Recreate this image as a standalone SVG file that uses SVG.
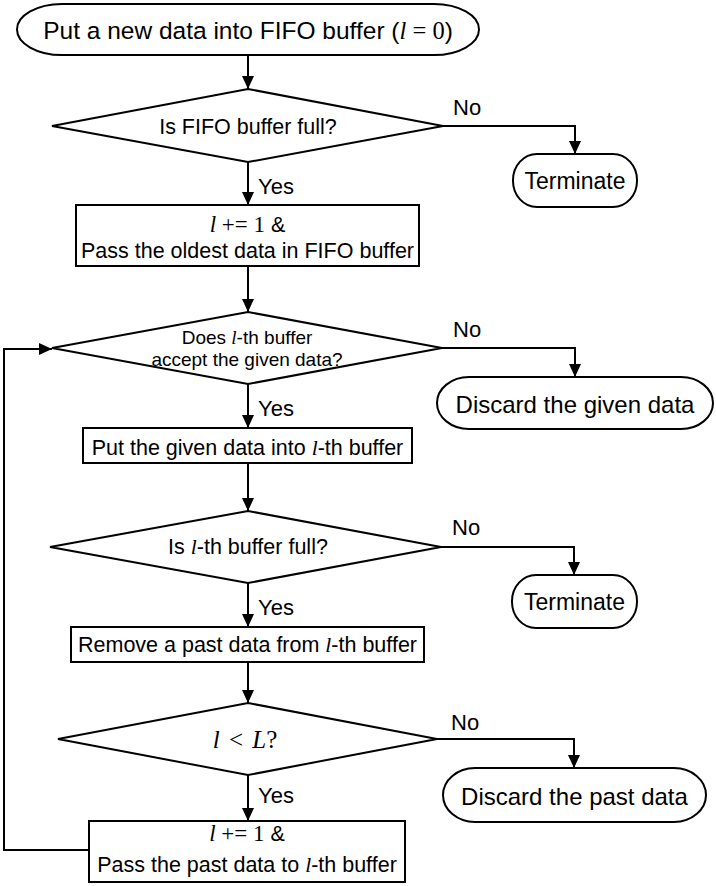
<svg xmlns="http://www.w3.org/2000/svg" width="716" height="886" viewBox="0 0 716 886">
  <defs>
    <marker id="arrow" markerUnits="userSpaceOnUse" markerWidth="14" markerHeight="12" refX="13" refY="6" orient="auto">
      <path d="M0,0 L13,6 L0,12 z" fill="#000"/>
    </marker>
    <style>
      .shape { fill: #fff; stroke: #000; stroke-width: 2; }
      .conn { fill: none; stroke: #000; stroke-width: 2; }
      .arr { marker-end: url(#arrow); }
      text { font-family: "Liberation Sans", Arial, sans-serif; fill: #000; }
      .t { font-size: 21.5px; text-anchor: middle; }
      .big { font-size: 24px; text-anchor: middle; }
      .small { font-size: 19px; text-anchor: middle; }
      .lbl { font-size: 22px; }
      .m { font-family: "Liberation Serif", "Times New Roman", serif; }
      .mi { font-family: "Liberation Serif", "Times New Roman", serif; font-style: italic; }
    </style>
  </defs>

  <g id="connectors">
    <path class="conn arr" d="M248,55 V89"/>
    <path class="conn arr" d="M443,126 H575 V154"/>
    <path class="conn arr" d="M248,162 V205"/>
    <path class="conn arr" d="M248,266 V312"/>
    <path class="conn arr" d="M442,348 H575 V377"/>
    <path class="conn arr" d="M248,384 V428"/>
    <path class="conn arr" d="M248,463 V511"/>
    <path class="conn arr" d="M441,547 H574 V575"/>
    <path class="conn arr" d="M248,583 V627"/>
    <path class="conn arr" d="M248,662 V703"/>
    <path class="conn arr" d="M437,739 H574 V768"/>
    <path class="conn arr" d="M248,775 V821"/>
    <path class="conn arr" d="M89,850 H4 V349 H52"/>
    <text class="lbl" x="453" y="115">No</text>
    <text class="lbl" x="258" y="194">Yes</text>
    <text class="lbl" x="453" y="337">No</text>
    <text class="lbl" x="258" y="416">Yes</text>
    <text class="lbl" x="452" y="535">No</text>
    <text class="lbl" x="258" y="615">Yes</text>
    <text class="lbl" x="451" y="730">No</text>
    <text class="lbl" x="258" y="803">Yes</text>
  </g>

  <g id="start">
    <rect class="shape" x="17" y="4" width="462" height="51" rx="45" ry="25.5"/>
    <text class="big" x="248" y="39" style="font-size:24.5px">Put a new data into FIFO buffer (<tspan class="mi">l</tspan><tspan class="m"> = 0</tspan>)</text>
  </g>

  <g id="fifo-full">
    <polygon class="shape" points="248,89 443,126 248,162 52,126"/>
    <text class="t" x="248" y="134">Is FIFO buffer full?</text>
  </g>

  <g id="terminate-1">
    <rect class="shape" x="513" y="154" width="124" height="53" rx="24" ry="26"/>
    <text class="big" x="575" y="189" style="font-size:23px">Terminate</text>
  </g>

  <g id="pass-oldest">
    <rect class="shape" x="76" y="205" width="343" height="61"/>
    <text class="t" x="247.5" y="232"><tspan class="mi" style="font-size:23px">l</tspan><tspan class="m" style="font-size:23px"> += 1</tspan> &amp;</text>
    <text class="t" x="247.5" y="258">Pass the oldest data in FIFO buffer</text>
  </g>

  <g id="accept">
    <polygon class="shape" points="248,312 442,348 248,384 52,348"/>
    <text class="small" x="247" y="344">Does <tspan class="mi">l</tspan>-th buffer</text>
    <text class="small" x="247" y="366">accept the given data?</text>
  </g>

  <g id="discard-given">
    <rect class="shape" x="437" y="377" width="276" height="52" rx="32" ry="26"/>
    <text class="big" x="575" y="413">Discard the given data</text>
  </g>

  <g id="put-given">
    <rect class="shape" x="83" y="428" width="329" height="35"/>
    <text class="t" x="247.5" y="455">Put the given data into <tspan class="mi">l</tspan>-th buffer</text>
  </g>

  <g id="buffer-full">
    <polygon class="shape" points="248,511 441,547 248,583 50,547"/>
    <text class="t" x="248" y="554">Is <tspan class="mi">l</tspan>-th buffer full?</text>
  </g>

  <g id="terminate-2">
    <rect class="shape" x="512" y="575" width="125" height="53" rx="24" ry="26"/>
    <text class="big" x="574.5" y="610" style="font-size:23px">Terminate</text>
  </g>

  <g id="remove-past">
    <rect class="shape" x="71" y="627" width="353" height="35"/>
    <text class="t" x="247.5" y="652">Remove a past data from <tspan class="mi">l</tspan>-th buffer</text>
  </g>

  <g id="l-less-L">
    <polygon class="shape" points="248,703 437,739 248,775 58,739"/>
    <text class="m" x="245" y="748" style="font-size:25px;text-anchor:middle;word-spacing:3px"><tspan class="mi">l</tspan> &lt; <tspan class="mi">L</tspan>?</text>
  </g>

  <g id="discard-past">
    <rect class="shape" x="443" y="768" width="263" height="54" rx="32" ry="27"/>
    <text class="big" x="574.5" y="805">Discard the past data</text>
  </g>

  <g id="pass-past">
    <rect class="shape" x="89" y="821" width="316" height="61"/>
    <text class="t" x="247" y="841"><tspan class="mi" style="font-size:23px">l</tspan><tspan class="m" style="font-size:23px"> += 1</tspan> &amp;</text>
    <text class="t" x="247" y="872">Pass the past data to <tspan class="mi">l</tspan>-th buffer</text>
  </g>
</svg>
